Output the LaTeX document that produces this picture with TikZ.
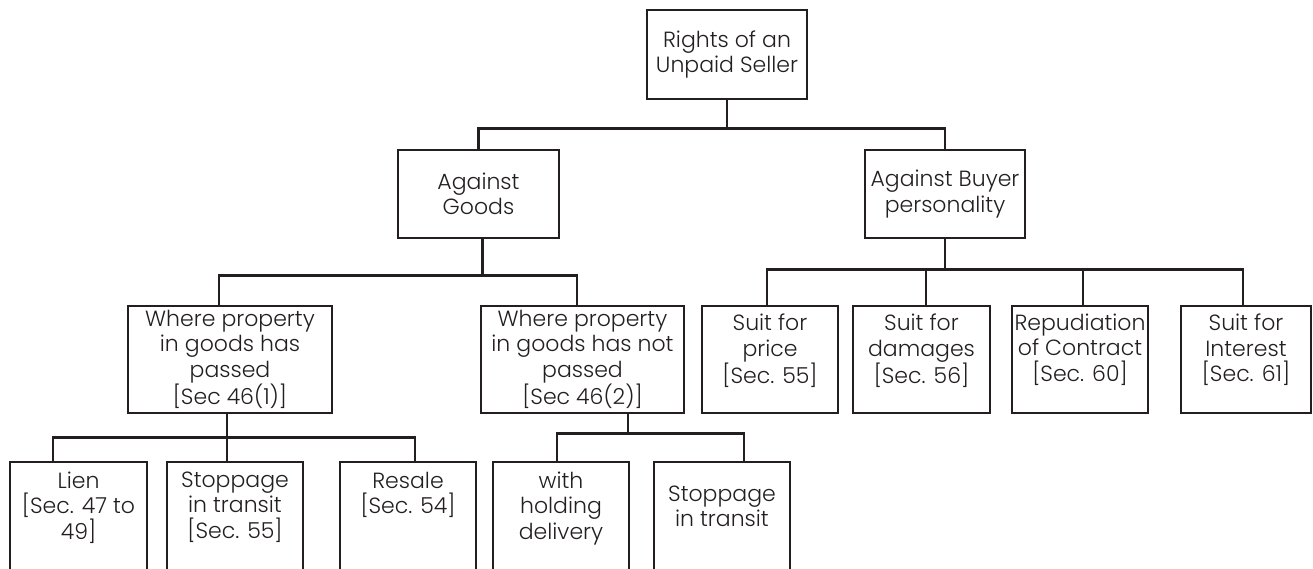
\documentclass[tikz,border=0pt]{standalone}
\usepackage{fontspec}
\setmainfont{Poppins Light}
\definecolor{ink}{HTML}{231F20}
\newcommand{\boxfont}{\fontsize{22}{25.5}\selectfont}
\tikzset{
  box/.style={draw=ink, line width=2.6pt, minimum width=136pt, minimum height=107pt,
    inner sep=0pt, align=center, text=ink, font=\boxfont},
  toptext/.style={anchor=north, align=center, inner sep=0pt, text=ink, font=\boxfont},
  link/.style={draw=ink, line width=2.6pt},
}

\begin{document}
\begin{tikzpicture}[x=1pt, y=-1pt]
        \useasboundingbox (0,0) rectangle (1313,568);
        \clip (0,0) rectangle (1313,568);

        % Top of the tree
        \node[box, minimum width=160pt, minimum height=89pt] (root) at (727,54.5) {Rights of an\\Unpaid Seller};

        % Second level
        \node[box, minimum width=161pt, minimum height=88pt] (goods) at (478.5,194) {Against\\Goods};
        \node[box, minimum width=160pt, minimum height=88pt] (buyer) at (945,194) {Against Buyer\\personality};

        % Rights against the goods
        \node[box, minimum width=204pt] (passed) at (230,359.5) {Where property\\in goods has\\passed\\{[Sec 46(1)]}};
        \node[box, minimum width=203pt] (notpassed) at (582.5,359.5) {Where property\\in goods has not\\passed\\{[Sec 46(2)]}};

        % Rights against the buyer
        \node[box, label={[toptext, yshift=-9pt]north:{Suit for\\price\\{[Sec. 55]}}}] (price) at (770,359.5) {};
        \node[box, minimum width=137pt, label={[toptext, yshift=-9pt]north:{Suit for\\damages\\{[Sec. 56]}}}] (damages) at (921.5,359.5) {};
        \node[box, label={[toptext, yshift=-9pt]north:{Repudiation\\of Contract\\{[Sec. 60]}}}] (repudiation) at (1080,359.5) {};
        \node[box, minimum width=130pt, label={[toptext, yshift=-9pt]north:{Suit for\\Interest\\{[Sec. 61]}}}] (interest) at (1246,359.5) {};

        % Bottom row (runs off the page)
        \node[box, minimum width=137pt, minimum height=118pt, label={[toptext, yshift=-11pt]north:{Lien\\{[Sec. 47 to}\\49]}}] (lien) at (78.5,521) {};
        \node[box, minimum height=118pt, label={[toptext, yshift=-11pt]north:{Stoppage\\in transit\\{[Sec. 55]}}}] (stoppage) at (235,521) {};
        \node[box, minimum height=118pt, label={[toptext, yshift=-11pt]north:{Resale\\{[Sec. 54]}}}] (resale) at (408,521) {};
        \node[box, minimum height=118pt, label={[toptext, yshift=-11pt]north:{with\\holding\\delivery}}] (holding) at (561,521) {};
        \node[box, minimum height=118pt, label={[toptext, yshift=-25pt]north:{Stoppage\\in transit}}] (transit) at (722,521) {};

        % Connectors
        \draw[link] (root.south) -- ++(0,28) coordinate (rootbus);
        \draw[link] (goods.north) |- (rootbus) -| (buyer.north);

        \draw[link] ([xshift=4pt]goods.south) -- ++(0,36) coordinate (goodsbus);
        \draw[link] ([xshift=-11pt]passed.north) |- (goodsbus) -| ([xshift=-5.5pt]notpassed.north);

        \draw[link] (buyer.south) -- ++(0,30) coordinate (buyerbus);
        \draw[link] ([xshift=-3pt]price.north) |- (buyerbus) -| ([xshift=-3pt]interest.north);
        \draw[link] ([xshift=4.5pt]damages.north) |- (buyerbus);
        \draw[link] ([xshift=3pt]repudiation.north) |- (buyerbus);

        \draw[link] ([xshift=-3pt]passed.south) -- ++(0,23) coordinate (passedbus) -- ([xshift=-8pt]stoppage.north);
        \draw[link] ([xshift=-25.5pt]lien.north) |- (passedbus) -| ([xshift=7pt]resale.north);

        \draw[link] ([xshift=45.5pt]notpassed.south) -- ++(0,19) coordinate (notbus);
        \draw[link] ([xshift=-4pt]holding.north) |- (notbus) -| ([xshift=22pt]transit.north);

    \end{tikzpicture}
\end{document}
